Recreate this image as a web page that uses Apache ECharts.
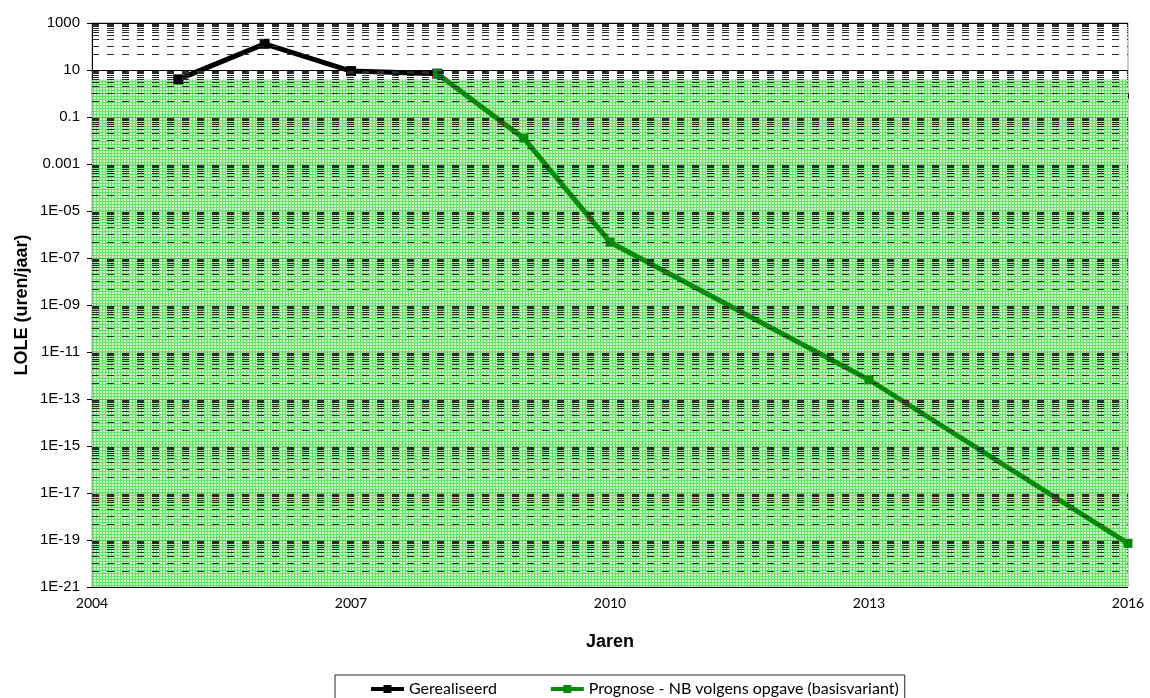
<!DOCTYPE html>
<html>
<head>
<meta charset="utf-8">
<script src="https://cdn.jsdelivr.net/npm/echarts@6/dist/echarts.min.js"></script>
<style>
html,body{margin:0;padding:0;background:#fff;}
#chart{width:1150px;height:698px;}
</style>
</head>
<body>
<div id="chart"></div>
<script>
// ---- data ----
var yearsRealised = [2005, 2006, 2007, 2008];
var valuesRealised = [4, 130, 9, 7];
var yearsForecast = [2008, 2009, 2010, 2013, 2016];
var valuesForecast = [7, 0.0126, 4.7e-7, 6.6e-13, 7.2e-20];
var normYears = [2004, 2016];
var normValues = [4, 4];
var xTickLabels = ['2004', '2007', '2010', '2013', '2016'];
var yTickLabels = ['1E-21', '1E-19', '1E-17', '1E-15', '1E-13', '1E-11', '1E-09', '1E-07', '1E-05', '0.001', '0.1', '10', '1000'];
var seriesNames = ['Gerealiseerd', 'Prognose - NB volgens opgave (basisvariant)'];

// values are plotted on a base-10 logarithmic scale
function lg(v) { return Math.log10(v); }
function pairs(xs, ys) { return xs.map(function (x, i) { return [x, lg(ys[i])]; }); }

// green hatch pattern
var pat = document.createElement('canvas');
pat.width = 3; pat.height = 3;
var pc = pat.getContext('2d');
pc.fillStyle = '#c4f3c4';
pc.fillRect(0, 0, 3, 3);
pc.fillStyle = '#4fde4f';
pc.fillRect(0, 0, 3, 1);
pc.fillRect(0, 0, 1, 3);

// dashed minor gridlines inside each two-decade band
var minorLines = [];
for (var e = -21; e < 3; e += 2) {
  [4.5, 10, 20, 30, 40, 50, 60, 70, 80, 90].forEach(function (k) {
    minorLines.push({ yAxis: e + lg(k) });
  });
}

var chart = echarts.init(document.getElementById('chart'));
chart.setOption({
  animation: false,
  backgroundColor: '#fff',
  grid: { left: 92, right: 22, top: 23, bottom: 111, show: true, borderColor: '#999', borderWidth: 1, outerBoundsMode: 'none' },
  legend: {
    data: seriesNames,
    left: 335, top: 675,
    padding: [6, 6, 6, 34],
    itemGap: 52, itemWidth: 33, itemHeight: 10,
    borderColor: '#222', borderWidth: 1,
    lineStyle: { width: 4 },
    textStyle: { fontFamily: 'Lato', fontSize: 16, color: '#000' }
  },
  xAxis: {
    type: 'value', min: 2004, max: 2016, interval: 3,
    name: 'Jaren', nameLocation: 'middle', nameGap: 46, nameMoveOverlap: false,
    nameTextStyle: { fontFamily: 'Liberation Sans', fontWeight: 'bold', fontSize: 18, color: '#000' },
    axisLine: { lineStyle: { color: '#000', width: 1 } },
    axisTick: { show: true, length: 5, lineStyle: { color: '#000' } },
    axisLabel: {
      margin: 9, color: '#000', fontFamily: 'Lato', fontSize: 14,
      formatter: function (v) { var i = Math.round((v - 2004) / 3); return xTickLabels[i] || ''; }
    },
    splitLine: { show: false }
  },
  yAxis: {
    type: 'value', min: -21, max: 3, interval: 2,
    name: 'LOLE (uren/jaar)', nameLocation: 'middle', nameGap: 61, nameMoveOverlap: false,
    nameTextStyle: { fontFamily: 'Liberation Sans', fontWeight: 'bold', fontSize: 18, color: '#000' },
    axisLine: { show: true, lineStyle: { color: '#000', width: 1 } },
    axisTick: { show: true, length: 5, lineStyle: { color: '#000' } },
    axisLabel: {
      margin: 12, color: '#000', fontFamily: 'Liberation Sans', fontSize: 15,
      formatter: function (v) { var i = Math.round((v + 21) / 2); return yTickLabels[i] || ''; }
    },
    splitLine: { show: true, lineStyle: { color: '#000', width: 1 } }
  },
  series: [
    {
      name: 'norm', type: 'line', data: pairs(normYears, normValues),
      symbol: 'none', lineStyle: { width: 0 }, z: 1,
      areaStyle: { color: { image: pat, repeat: 'repeat' }, opacity: 0.88, origin: 'start' },
      silent: true
    },
    {
      name: 'minor', type: 'line', data: [], z: 2, silent: true,
      markLine: {
        silent: true, symbol: 'none', label: { show: false }, animation: false,
        lineStyle: { type: [7, 8], color: '#2a2a2a', width: 1 },
        data: minorLines
      }
    },
    {
      name: seriesNames[0], type: 'line', data: pairs(yearsRealised, valuesRealised), z: 3,
      symbol: 'rect', symbolSize: 10,
      itemStyle: { color: '#000' }, lineStyle: { color: '#000', width: 5 }
    },
    {
      name: seriesNames[1], type: 'line', data: pairs(yearsForecast, valuesForecast), z: 4,
      symbol: 'rect', symbolSize: 9,
      itemStyle: { color: '#0a8a0a' }, lineStyle: { color: '#0a8a0a', width: 5 }
    }
  ]
});
</script>
</body>
</html>
